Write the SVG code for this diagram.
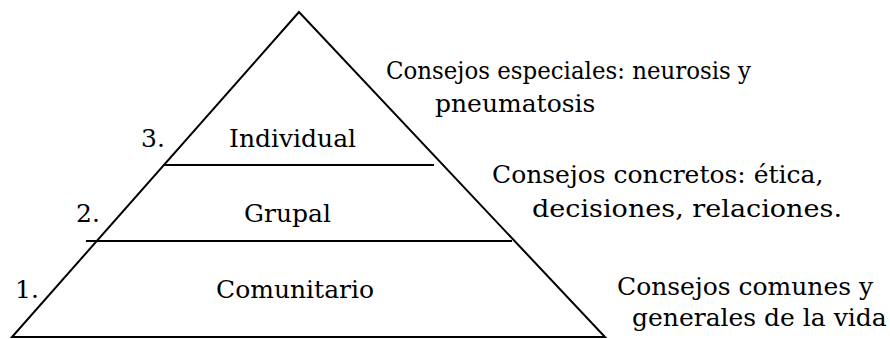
<svg xmlns="http://www.w3.org/2000/svg" width="890" height="339" viewBox="0 0 890 339">
<style>
  text { font-family: 'DejaVu Serif', 'Liberation Serif', serif; font-size: 25px; fill: #000; }
  .ln { stroke: #000; stroke-width: 2; fill: none; }
</style>
<rect width="890" height="339" fill="#fff"/>
<g id="connectors">
  <polygon class="ln" points="299,12 12,337 605,337" stroke-linejoin="miter"/>
  <line class="ln" x1="163" y1="165" x2="434" y2="165"/>
  <line class="ln" x1="86" y1="241" x2="512" y2="241"/>
</g>
<g id="level3">
  <text x="141" y="147">3.</text>
  <text x="229" y="147">Individual</text>
</g>
<g id="level2">
  <text x="76" y="222">2.</text>
  <text x="244" y="222">Grupal</text>
</g>
<g id="level1">
  <text x="15" y="298">1.</text>
  <text x="216" y="298">Comunitario</text>
</g>
<g id="note3">
  <text x="386" y="79" textLength="365" lengthAdjust="spacingAndGlyphs">Consejos especiales: neurosis y</text>
  <text x="435" y="112">pneumatosis</text>
</g>
<g id="note2">
  <text x="492" y="183">Consejos concretos: ética,</text>
  <text x="532" y="217" textLength="310" lengthAdjust="spacingAndGlyphs">decisiones, relaciones.</text>
</g>
<g id="note1">
  <text x="617" y="295">Consejos comunes y</text>
  <text x="632" y="326">generales de la vida</text>
</g>
</svg>
